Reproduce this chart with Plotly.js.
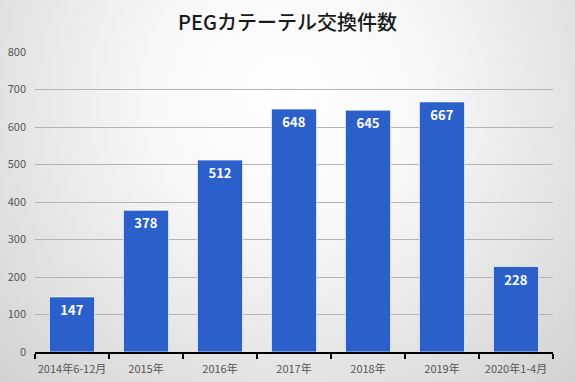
<!DOCTYPE html>
<html><head><meta charset="utf-8">
<script src="https://cdn.plot.ly/plotly-3.0.1.min.js"></script>
<style>
html,body{margin:0;padding:0;}
#chart{width:575px;height:382px;background:radial-gradient(ellipse at 50% 25%, #ffffff 0%, #f7f7f7 35%, #d2d2d2 100%);}
</style></head>
<body><div id="chart"></div>
<script>
const categories = ["2014年6-12月","2015年","2016年","2017年","2018年","2019年","2020年1-4月"];
const counts = [147,378,512,648,645,667,228];
const yTicks = [0,100,200,300,400,500,600,700,800];
const titleText = "PEGカテーテル交換件数";

const trace = {
  type:"bar", x:categories, y:counts,
  text:counts.map(String), textposition:"inside", insidetextanchor:"end",
  textfont:{family:"Noto Sans CJK JP, Roboto, sans-serif", size:13, color:"#ffffff", weight:"bold"},
  marker:{color:"#2b5fca", line:{color:"rgba(255,255,255,0.7)", width:1}},
  width:0.61, hoverinfo:"none", cliponaxis:false
};
const layout = {
  width:575, height:382,
  paper_bgcolor:"rgba(0,0,0,0)", plot_bgcolor:"rgba(0,0,0,0)",
  margin:{l:35,r:22,t:52,b:30},
  title:{text:titleText, x:0.5, xanchor:"center", y:0.94, yanchor:"middle",
    font:{family:"Noto Sans CJK JP, sans-serif", size:20, color:"#1a1a1a", weight:500}},
  showlegend:false,
  xaxis:{type:"category", tickson:"boundaries", ticks:"outside", ticklen:5, tickwidth:1.5, tickcolor:"#000",
    tickangle:0, showline:true, linecolor:"#000", linewidth:2, showgrid:false, ticklabelstandoff:6,
    tickfont:{family:"Noto Sans CJK JP, sans-serif", size:11, color:"#555"}},
  yaxis:{range:[0,800], tickvals:yTicks, showgrid:true, gridcolor:"#b4b4b4", gridwidth:1,
    zeroline:false, showline:false, ticks:"", ticklabelstandoff:8,
    tickfont:{family:"Noto Sans CJK JP, sans-serif", size:11, color:"#555"}},
  bargap:0.39
};
Plotly.newPlot("chart",[trace],layout,{displayModeBar:false, staticPlot:true});
</script></body></html>
